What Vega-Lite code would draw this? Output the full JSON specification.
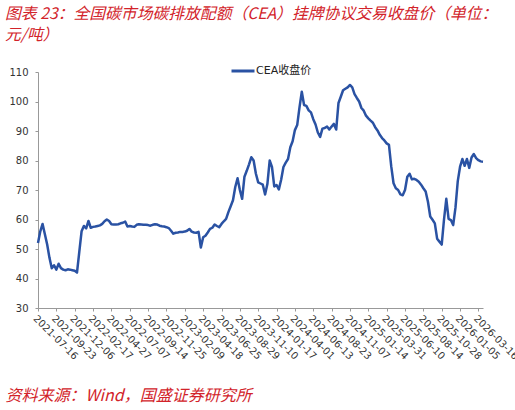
{
  "$schema": "https://vega.github.io/schema/vega-lite/v6.json",
  "width": 445,
  "height": 236,
  "autosize": {"type": "none"},
  "padding": {"left": 38, "top": 72, "right": 32, "bottom": 102},
  "background": "white",
  "title": {
    "text": ["图表 23：全国碳市场碳排放配额（CEA）挂牌协议交易收盘价（单位：", "元/吨）"],
    "anchor": "start",
    "frame": "group",
    "dx": -33,
    "dy": -10,
    "font": "Noto Sans CJK SC",
    "fontSize": 15.8,
    "fontStyle": "italic",
    "fontWeight": "normal",
    "color": "#D2232A",
    "lineHeight": 21
  },
  "data": {
    "values": [
      {"date": "2021-07-16", "price": 52},
      {"date": "2021-07-26", "price": 56},
      {"date": "2021-08-04", "price": 58.5},
      {"date": "2021-08-13", "price": 55},
      {"date": "2021-08-23", "price": 51.5},
      {"date": "2021-09-01", "price": 47},
      {"date": "2021-09-09", "price": 43.5},
      {"date": "2021-09-16", "price": 44.5},
      {"date": "2021-09-23", "price": 43},
      {"date": "2021-10-11", "price": 45},
      {"date": "2021-10-19", "price": 43.5},
      {"date": "2021-10-27", "price": 43},
      {"date": "2021-11-04", "price": 42.8},
      {"date": "2021-11-12", "price": 43.1},
      {"date": "2021-11-22", "price": 43},
      {"date": "2021-11-30", "price": 42.8},
      {"date": "2021-12-06", "price": 42.6},
      {"date": "2021-12-14", "price": 42},
      {"date": "2021-12-22", "price": 49},
      {"date": "2021-12-30", "price": 56},
      {"date": "2022-01-10", "price": 57.8},
      {"date": "2022-01-18", "price": 57},
      {"date": "2022-01-26", "price": 59.5},
      {"date": "2022-02-10", "price": 57.2},
      {"date": "2022-02-17", "price": 57.5},
      {"date": "2022-02-25", "price": 57.6},
      {"date": "2022-03-07", "price": 57.8},
      {"date": "2022-03-15", "price": 58},
      {"date": "2022-03-23", "price": 58.5},
      {"date": "2022-03-31", "price": 59.4},
      {"date": "2022-04-11", "price": 60},
      {"date": "2022-04-19", "price": 59.5},
      {"date": "2022-04-27", "price": 58.4},
      {"date": "2022-05-09", "price": 58.3},
      {"date": "2022-05-17", "price": 58.3},
      {"date": "2022-05-25", "price": 58.4},
      {"date": "2022-06-02", "price": 58.7},
      {"date": "2022-06-13", "price": 58.9},
      {"date": "2022-06-21", "price": 59.3},
      {"date": "2022-06-29", "price": 57.6},
      {"date": "2022-07-07", "price": 57.8},
      {"date": "2022-07-15", "price": 57.6},
      {"date": "2022-07-25", "price": 57.5},
      {"date": "2022-08-02", "price": 58.2},
      {"date": "2022-08-10", "price": 58.4},
      {"date": "2022-08-18", "price": 58.3},
      {"date": "2022-08-26", "price": 58.2},
      {"date": "2022-09-05", "price": 58.2},
      {"date": "2022-09-14", "price": 58.1},
      {"date": "2022-09-22", "price": 57.9},
      {"date": "2022-09-30", "price": 58.2},
      {"date": "2022-10-14", "price": 58.4},
      {"date": "2022-10-24", "price": 58.3},
      {"date": "2022-11-01", "price": 57.9},
      {"date": "2022-11-09", "price": 57.7},
      {"date": "2022-11-17", "price": 57.6},
      {"date": "2022-11-25", "price": 57.4},
      {"date": "2022-12-05", "price": 57.1},
      {"date": "2022-12-13", "price": 56.2},
      {"date": "2022-12-21", "price": 55.2},
      {"date": "2022-12-29", "price": 55.5},
      {"date": "2023-01-09", "price": 55.6},
      {"date": "2023-01-17", "price": 55.8},
      {"date": "2023-02-01", "price": 55.8},
      {"date": "2023-02-09", "price": 55.9},
      {"date": "2023-02-17", "price": 56.2},
      {"date": "2023-02-27", "price": 56.8},
      {"date": "2023-03-07", "price": 55.9},
      {"date": "2023-03-15", "price": 55.6},
      {"date": "2023-03-23", "price": 55.5},
      {"date": "2023-03-31", "price": 55.8},
      {"date": "2023-04-10", "price": 50.5},
      {"date": "2023-04-18", "price": 54},
      {"date": "2023-04-26", "price": 54.5},
      {"date": "2023-05-08", "price": 55.6},
      {"date": "2023-05-16", "price": 56.8},
      {"date": "2023-05-24", "price": 57.2},
      {"date": "2023-06-01", "price": 58.3},
      {"date": "2023-06-09", "price": 57.8},
      {"date": "2023-06-16", "price": 57.4},
      {"date": "2023-06-25", "price": 58.5},
      {"date": "2023-07-04", "price": 59.4},
      {"date": "2023-07-12", "price": 60.2},
      {"date": "2023-07-20", "price": 62.5},
      {"date": "2023-07-28", "price": 64.5},
      {"date": "2023-08-07", "price": 66.5},
      {"date": "2023-08-15", "price": 71},
      {"date": "2023-08-23", "price": 74},
      {"date": "2023-08-29", "price": 70},
      {"date": "2023-09-06", "price": 67},
      {"date": "2023-09-14", "price": 74.5},
      {"date": "2023-09-22", "price": 76.5},
      {"date": "2023-10-09", "price": 78.7},
      {"date": "2023-10-17", "price": 81.1},
      {"date": "2023-10-25", "price": 80},
      {"date": "2023-11-02", "price": 75.5},
      {"date": "2023-11-10", "price": 72.6},
      {"date": "2023-11-20", "price": 72.2},
      {"date": "2023-11-28", "price": 71.8},
      {"date": "2023-12-06", "price": 68.5},
      {"date": "2023-12-14", "price": 72},
      {"date": "2023-12-22", "price": 80},
      {"date": "2024-01-02", "price": 77.8},
      {"date": "2024-01-09", "price": 71.2},
      {"date": "2024-01-17", "price": 71.7},
      {"date": "2024-01-25", "price": 70.2},
      {"date": "2024-02-02", "price": 73.5},
      {"date": "2024-02-20", "price": 77.8},
      {"date": "2024-02-28", "price": 79.3},
      {"date": "2024-03-07", "price": 80.5},
      {"date": "2024-03-15", "price": 84.5},
      {"date": "2024-03-25", "price": 86.5},
      {"date": "2024-04-01", "price": 90.3},
      {"date": "2024-04-10", "price": 92},
      {"date": "2024-04-18", "price": 98},
      {"date": "2024-04-26", "price": 103.3},
      {"date": "2024-05-10", "price": 98.8},
      {"date": "2024-05-20", "price": 98.5},
      {"date": "2024-05-28", "price": 97},
      {"date": "2024-06-05", "price": 96.3},
      {"date": "2024-06-13", "price": 94},
      {"date": "2024-06-21", "price": 92.2},
      {"date": "2024-07-01", "price": 89.5},
      {"date": "2024-07-09", "price": 88},
      {"date": "2024-07-17", "price": 90.8},
      {"date": "2024-07-25", "price": 91},
      {"date": "2024-08-02", "price": 91.5},
      {"date": "2024-08-13", "price": 90.5},
      {"date": "2024-08-23", "price": 91.5},
      {"date": "2024-09-02", "price": 92.4},
      {"date": "2024-09-10", "price": 90.5},
      {"date": "2024-09-19", "price": 99.5},
      {"date": "2024-09-27", "price": 101.6},
      {"date": "2024-10-14", "price": 103.8},
      {"date": "2024-10-22", "price": 104.3},
      {"date": "2024-10-30", "price": 104.8},
      {"date": "2024-11-07", "price": 105.6},
      {"date": "2024-11-15", "price": 104.8},
      {"date": "2024-11-25", "price": 102.5},
      {"date": "2024-12-03", "price": 101.2},
      {"date": "2024-12-11", "price": 100},
      {"date": "2024-12-19", "price": 97.8},
      {"date": "2024-12-27", "price": 96.9},
      {"date": "2025-01-06", "price": 95.2},
      {"date": "2025-01-14", "price": 94.3},
      {"date": "2025-01-22", "price": 93.5},
      {"date": "2025-02-06", "price": 92.8},
      {"date": "2025-02-14", "price": 91.3},
      {"date": "2025-02-24", "price": 90.2},
      {"date": "2025-03-04", "price": 88.7},
      {"date": "2025-03-12", "price": 87.6},
      {"date": "2025-03-20", "price": 86.8},
      {"date": "2025-03-31", "price": 85.8},
      {"date": "2025-04-09", "price": 85.3},
      {"date": "2025-04-17", "price": 78},
      {"date": "2025-04-25", "price": 72.3},
      {"date": "2025-05-09", "price": 70.6},
      {"date": "2025-05-19", "price": 70},
      {"date": "2025-05-27", "price": 68.5},
      {"date": "2025-06-03", "price": 68.2},
      {"date": "2025-06-10", "price": 70},
      {"date": "2025-06-18", "price": 74.5},
      {"date": "2025-06-26", "price": 75.5},
      {"date": "2025-07-04", "price": 73.6},
      {"date": "2025-07-14", "price": 73.8},
      {"date": "2025-07-22", "price": 73.4},
      {"date": "2025-07-30", "price": 72.8},
      {"date": "2025-08-07", "price": 71.8},
      {"date": "2025-08-14", "price": 70.6},
      {"date": "2025-08-22", "price": 69.5},
      {"date": "2025-09-01", "price": 66},
      {"date": "2025-09-09", "price": 61},
      {"date": "2025-09-17", "price": 59.9},
      {"date": "2025-09-25", "price": 58.7},
      {"date": "2025-10-13", "price": 53.5},
      {"date": "2025-10-21", "price": 52.5},
      {"date": "2025-10-28", "price": 51.5},
      {"date": "2025-11-05", "price": 60},
      {"date": "2025-11-13", "price": 67},
      {"date": "2025-11-21", "price": 60.2},
      {"date": "2025-12-01", "price": 59.8},
      {"date": "2025-12-09", "price": 58.1},
      {"date": "2025-12-17", "price": 64},
      {"date": "2025-12-25", "price": 73},
      {"date": "2026-01-05", "price": 77.9},
      {"date": "2026-01-13", "price": 80.5},
      {"date": "2026-01-21", "price": 78.2},
      {"date": "2026-01-29", "price": 80.5},
      {"date": "2026-02-06", "price": 77.5},
      {"date": "2026-02-13", "price": 81},
      {"date": "2026-02-27", "price": 82.2},
      {"date": "2026-03-06", "price": 80.8},
      {"date": "2026-03-16", "price": 80.1},
      {"date": "2026-03-18", "price": 79.7},
      {"date": "2026-03-20", "price": 79.6}
    ]
  },
  "mark": {"type": "line", "strokeWidth": 2.5, "strokeJoin": "round"},
  "encoding": {
    "x": {
      "field": "date",
      "type": "ordinal",
      "scale": {"type": "point", "padding": 0},
      "axis": {
        "values": ["2021-07-16", "2021-09-23", "2021-12-06", "2022-02-17", "2022-04-27", "2022-07-07", "2022-09-14", "2022-11-25", "2023-02-09", "2023-04-18", "2023-06-25", "2023-08-29", "2023-11-10", "2024-01-17", "2024-04-01", "2024-06-13", "2024-08-23", "2024-11-07", "2025-01-14", "2025-03-31", "2025-06-10", "2025-08-14", "2025-10-28", "2026-01-05", "2026-03-16"],
        "labelAngle": 45,
        "labelAlign": "left",
        "labelBaseline": "top",
        "labelFont": "DejaVu Sans",
        "labelFontSize": 10,
        "labelColor": "#333333",
        "labelOverlap": false,
        "labelPadding": 2,
        "tickSize": 3,
        "tickColor": "#999999",
        "domainColor": "#999999",
        "grid": false,
        "title": "资料来源：Wind，国盛证券研究所",
        "titleX": -33,
        "titleY": 87,
        "titleAlign": "left",
        "titleBaseline": "middle",
        "titleAngle": 0,
        "titleFont": "Noto Sans CJK SC",
        "titleFontSize": 16,
        "titleFontStyle": "italic",
        "titleFontWeight": "normal",
        "titleColor": "#D2232A"
      }
    },
    "y": {
      "field": "price",
      "type": "quantitative",
      "scale": {"domain": [30, 110], "nice": false, "zero": false},
      "axis": {
        "values": [30, 40, 50, 60, 70, 80, 90, 100, 110],
        "grid": false,
        "labelFont": "DejaVu Sans",
        "labelFontSize": 10,
        "labelColor": "#333333",
        "labelPadding": 7,
        "tickSize": 3,
        "tickColor": "#999999",
        "domainColor": "#999999",
        "title": null
      }
    },
    "color": {
      "datum": "CEA收盘价",
      "type": "nominal",
      "scale": {"range": ["#2A52A3"]},
      "legend": {
        "orient": "none",
        "legendX": 192,
        "legendY": -14,
        "title": null,
        "symbolType": "stroke",
        "symbolSize": 529,
        "symbolStrokeWidth": 3,
        "labelFont": "DejaVu Sans, Noto Sans CJK SC",
        "labelFontSize": 11,
        "labelColor": "#222222",
        "labelOffset": 0,
        "padding": 0
      }
    }
  },
  "config": {"view": {"stroke": null}}
}
